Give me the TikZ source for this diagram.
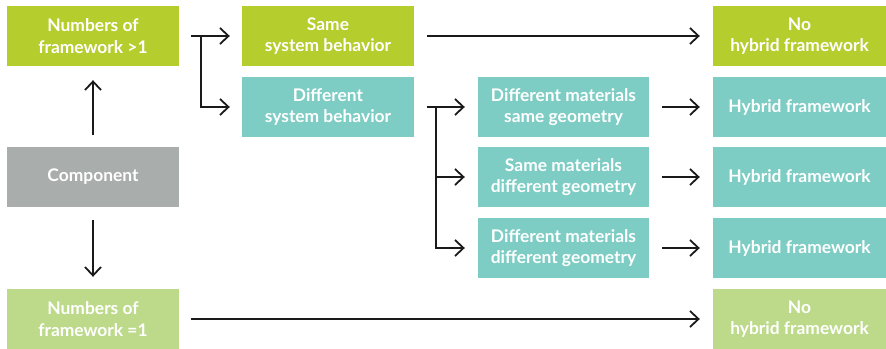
\documentclass[tikz,border=0pt]{standalone}
\usepackage{fontspec}
\setmainfont{Lato}
\usetikzlibrary{arrows.meta}
\definecolor{lime}{RGB}{182,205,46}
\definecolor{teal2}{RGB}{125,205,196}
\definecolor{greybox}{RGB}{169,174,173}
\definecolor{palegreen}{RGB}{188,218,138}
\definecolor{ink}{RGB}{26,26,26}
\tikzset{
  box/.style={rectangle, inner sep=0pt, minimum height=60pt, text=white,
    align=center, font=\fontsize{17.4}{21.5}\selectfont\bfseries},
  wbox/.style={box, minimum width=172pt},
  rbox/.style={box, minimum width=173pt},
  mbox/.style={box, minimum width=171pt},
  arr/.style={draw=ink, line width=1.8pt,
    -{Straight Barb[length=8.5pt, width=16pt, line width=1.8pt]}},
}
\begin{document}
\begin{tikzpicture}[x=1pt, y=-1pt]
\useasboundingbox (0,0) rectangle (886,348);
% left column
\node[wbox, fill=lime] (n1) at (93,36) {Numbers of\\framework >1};
\node[wbox, fill=greybox] (comp) at (93,177) {Component};
\node[wbox, fill=palegreen] (n2) at (93,319) {Numbers of\\framework =1};
% system behaviour
\node[wbox, fill=lime] (same) at (328,36) {Same\\system behavior};
\node[wbox, fill=teal2] (diff) at (328,107) {Different\\system behavior};
% material / geometry cases
\node[mbox, fill=teal2] (m1) at (563.5,107) {Different materials\\same geometry};
\node[mbox, fill=teal2] (m2) at (563.5,177) {Same materials\\different geometry};
\node[mbox, fill=teal2] (m3) at (563.5,248) {Different materials\\different geometry};
% outcomes
\node[rbox, fill=lime] (no1) at (799.5,36) {No\\hybrid framework};
\node[rbox, fill=teal2] (h1) at (799.5,107) {Hybrid framework};
\node[rbox, fill=teal2] (h2) at (799.5,177) {Hybrid framework};
\node[rbox, fill=teal2] (h3) at (799.5,248) {Hybrid framework};
\node[rbox, fill=palegreen] (no2) at (799.5,319) {No\\hybrid framework};
% connectors (shifts are in page units: positive yshift points up)
\draw[arr] ([yshift=12pt]comp.north) -- ([yshift=-14pt]n1.south);
\draw[arr] ([yshift=-13pt]comp.south) -- ([yshift=12pt]n2.north);
\draw[arr] ([xshift=12pt]n1.east) -- ([xshift=-12pt]same.west);
\draw[arr] ([xshift=22pt]n1.east) |- ([xshift=-12pt]diff.west);
\draw[arr] ([xshift=13pt]same.east) -- ([xshift=-13pt]no1.west);
\draw[arr] ([xshift=13pt]diff.east) -- ([xshift=-13pt]m1.west);
\draw[arr] ([xshift=22pt]diff.east) |- ([xshift=-13pt]m2.west);
\draw[arr] ([xshift=22pt]diff.east) |- ([xshift=-13pt]m3.west);
\draw[arr] ([xshift=13pt]m1.east) -- ([xshift=-13pt]h1.west);
\draw[arr] ([xshift=13pt]m2.east) -- ([xshift=-13pt]h2.west);
\draw[arr] ([xshift=13pt]m3.east) -- ([xshift=-13pt]h3.west);
\draw[arr] ([xshift=12pt]n2.east) -- ([xshift=-13pt]no2.west);
\end{tikzpicture}
\end{document}
